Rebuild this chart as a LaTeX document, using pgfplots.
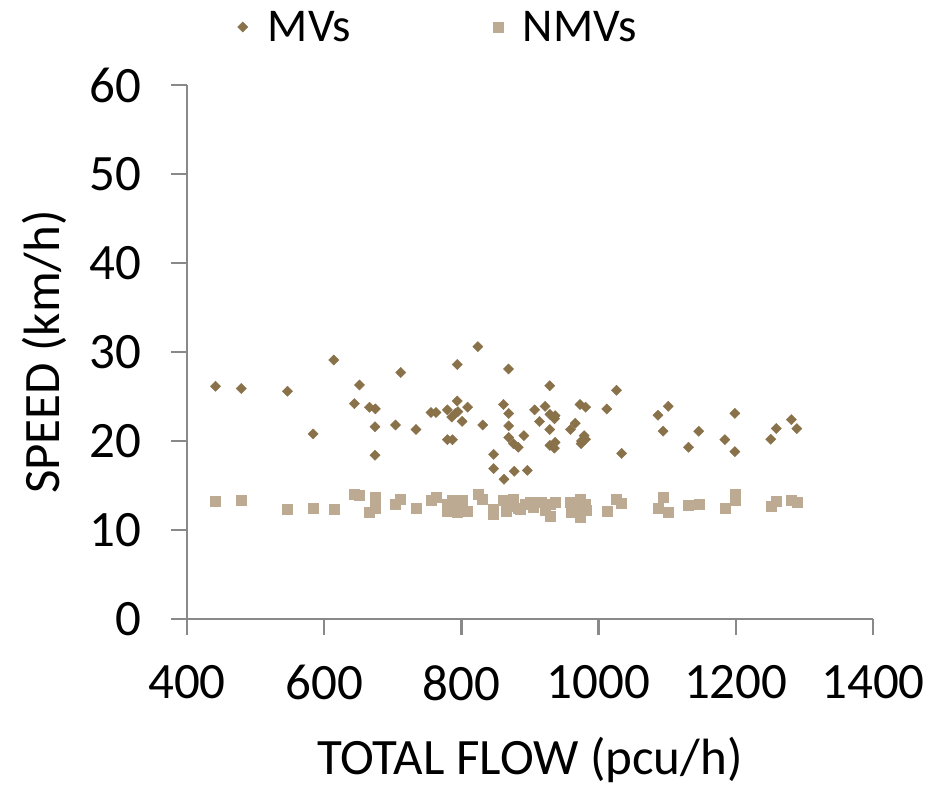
\documentclass[border=0pt]{standalone}
\usepackage{fontspec}
\setmainfont{Carlito}
\usepackage{pgfplots}
\pgfplotsset{compat=1.18}
\definecolor{mvc}{HTML}{89714A}
\definecolor{nmvc}{HTML}{BCAA92}
\definecolor{axgray}{HTML}{898989}
\newcommand{\chartfont}{\fontsize{51}{60}\selectfont}
\begin{document}
\begin{tikzpicture}
\begin{axis}[
    name=ax,
    scale only axis,
    width=686pt, height=534pt,
    xmin=400, xmax=1400, ymin=0, ymax=60,
    xtick={400,600,...,1400}, ytick={0,10,...,60},
    axis x line*=bottom, axis y line*=left,
    axis line style={axgray, line width=2.5pt, -},
    tick style={axgray, line width=2.5pt},
    tick align=outside, major tick length=16pt,
    /pgf/number format/assume math mode=true,
    /pgf/number format/1000 sep={},
    ticklabel style={font=\chartfont, text=black},
    xticklabel style={yshift=-27pt},
    yticklabel style={xshift=-26pt},
    xlabel={TOTAL FLOW (pcu/h)}, ylabel={SPEED (km/h)},
    label style={font=\chartfont},
    xlabel style={at={(axis description cs:0.5,0)}, anchor=base, yshift=-155pt},
    ylabel style={at={(axis description cs:0,0.5)}, anchor=base, yshift=127pt},
    legend columns=2,
    legend style={draw=none, fill=none, font=\fontsize{47}{56}\selectfont,
        at={(0.366,1)}, anchor=center, yshift=58pt,
        /tikz/every odd column/.append style={column sep=18pt},
        /tikz/every even column/.append style={column sep=140pt}},
    clip=false,
]
% MVs
\addplot[only marks, mark=square*, mark size=3.6pt, mark options={rotate=45, draw=mvc, fill=mvc}]
coordinates {
(441.7,26.15)(479,25.9)(546.5,25.6)(583.9,20.8)(614,29.1)(644,24.2)(651.4,26.3)
(666,23.8)(674.6,23.6)(674,21.6)(674,18.4)(704,21.8)(711.5,27.7)(733.8,21.3)
(755.6,23.2)(762.9,23.2)(779.5,23.5)(794,24.5)(794,28.6)(786,22.7)(791,23.1)
(795,23.3)(809,23.8)(801,22.2)(779.5,20.15)(787,20.15)(824,30.6)(831,21.8)
(868.7,28.1)(861.4,24.1)(869,23.1)(869,21.7)(869,20.4)(876,19.7)(883,19.3)
(891,20.6)(847,18.5)(847,16.9)(862,15.7)(877,16.6)(896,16.7)(928.8,26.2)
(906.6,23.5)(922,23.9)(929,23.0)(936.6,22.85)(935.6,22.5)(913.8,22.2)(928.8,21.3)
(929,19.5)(936.6,19.85)(935.6,19.2)(959,21.3)(966,22.0)(973,24.1)(981,23.8)
(979,20.6)(981,20.2)(974.5,19.7)(975,20.0)(1012,23.6)(1026,25.7)(1033.6,18.6)
(1086.5,22.9)(1101.6,23.9)(1094,21.1)(1131,19.3)(1146,21.1)(1184,20.15)
(1198.6,23.1)(1198.6,18.8)(1251,20.2)(1259,21.4)(1281,22.4)(1289,21.4)
};\addlegendentry{MVs}
% NMVs
\addplot[only marks, mark=square*, mark size=5pt, mark options={draw=nmvc, fill=nmvc}]
coordinates {
(441.7,13.2)(479,13.4)(546.5,12.35)(584,12.45)(614,12.3)(644,14.0)(651.4,13.9)
(674,13.65)(674,12.9)(674,12.5)(666,12.0)(703.7,12.9)(711.5,13.5)(733.8,12.5)
(755.6,13.3)(763.5,13.65)(779.5,12.9)(779.5,12.15)(786,13.3)(786,12.6)(794,12.0)
(794,13.0)(801.7,13.4)(808.6,12.15)(824,14.0)(831,13.5)(847,12.35)(847,11.8)
(861,13.3)(866,12.1)(869,12.7)(876,13.5)(883,12.5)(885,12.3)(893,12.9)(900,13.1)
(905,12.6)(917,13.1)(929,12.9)(936.6,13.1)(929,11.6)(922,12.2)(958.5,13.1)
(960,12.0)(973,13.5)(975,12.6)(980.5,12.9)(973,11.4)(982.6,12.2)(1012,12.15)
(1026,13.5)(1033.6,13.0)(1086.5,12.5)(1094,13.65)(1101.6,12.0)(1131,12.8)
(1146,12.9)(1184,12.45)(1198.6,14.0)(1198.6,13.3)(1251,12.7)(1259,13.2)
(1281,13.3)(1289,13.1)
};\addlegendentry{NMVs}
\end{axis}
\pgfresetboundingbox
\path ([xshift=-187pt, yshift=-168pt]ax.south west) rectangle ([xshift=72pt, yshift=85pt]ax.north east);
\end{tikzpicture}
\end{document}
